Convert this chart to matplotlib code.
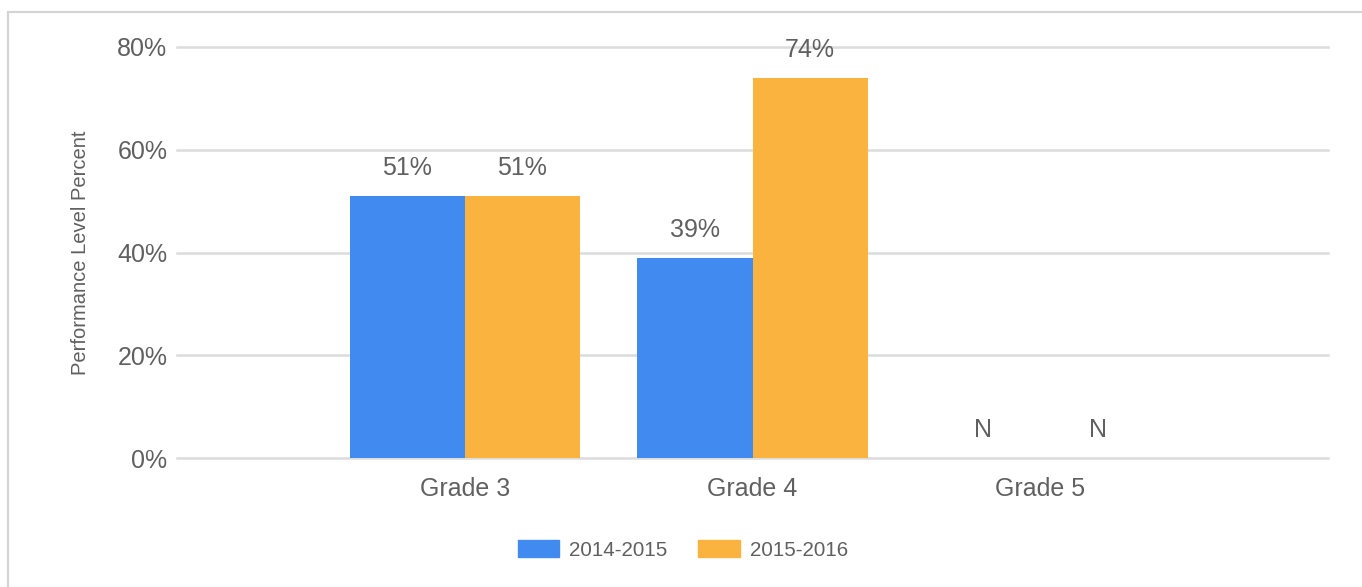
import matplotlib
matplotlib.use('Agg')
import matplotlib.pyplot as plt
from matplotlib.patches import Rectangle, Patch
import numpy as np

plt.rcParams['font.family'] = ['Liberation Sans', 'DejaVu Sans']

categories = ['Grade 3', 'Grade 4', 'Grade 5']
series_names = ['2014-2015', '2015-2016']
values_2014_2015 = [51, 39, None]
values_2015_2016 = [51, 74, None]
y_ticks = [0, 20, 40, 60, 80]
y_label = 'Performance Level Percent'

COLORS = ['#418BF0', '#FBB340']
TEXT_COLOR = '#606060'
GRID_COLOR = '#dcdcdc'
W, H = 1362, 587

fig = plt.figure(figsize=(W / 100, H / 100), dpi=100)
ax = fig.add_axes([177 / W, 1 - 458 / H, (1328 - 177) / W, (458 - 47) / H])

x = np.arange(len(categories))
width = 0.4
for i, (vals, color) in enumerate(zip([values_2014_2015, values_2015_2016], COLORS)):
    heights = np.array([np.nan if v is None else v for v in vals], dtype=float)
    pos = x + (i - 0.5) * width
    ax.bar(pos, np.nan_to_num(heights), width, color=color, zorder=3)
    for xp, h in zip(pos, heights):
        label = 'N' if np.isnan(h) else f'{int(h)}%'
        ax.annotate(label, (xp, 0 if np.isnan(h) else h), xytext=(0, 11.5),
                    textcoords='offset points', ha='center', va='bottom',
                    fontsize=18, color=TEXT_COLOR)

ax.set_xlim(-1, 3)
ax.set_ylim(0, 80)
ax.set_yticks(y_ticks)
ax.set_yticklabels([f'{t}%' for t in y_ticks])
ax.set_xticks(x)
ax.set_xticklabels(categories)
ax.tick_params(axis='both', length=0, labelsize=18, labelcolor=TEXT_COLOR)
ax.tick_params(axis='y', pad=7)
ax.tick_params(axis='x', pad=13.5)
for t in y_ticks:
    ax.axhline(t, color=GRID_COLOR, lw=1.8, zorder=1, clip_on=False)
for s in ax.spines.values():
    s.set_visible(False)

ax.set_ylabel(y_label, fontsize=14.5, color=TEXT_COLOR)
ax.yaxis.set_label_coords((90 - 177) / (1328 - 177), 0.5)

handles = [Patch(facecolor=c, edgecolor=c) for c in COLORS]
fig.legend(handles, series_names, loc='center', bbox_to_anchor=(683 / W, 1 - 550 / H),
           ncol=2, frameon=False, fontsize=14.8, labelcolor=TEXT_COLOR,
           handlelength=2.0, handleheight=0.88, handletextpad=0.5, columnspacing=1.5)

# outer frame, only left and top edges visible in the picture
fig.patches.append(Rectangle((8 / W, -0.1), 2, 1.1 - 12 / H, transform=fig.transFigure,
                             fill=False, edgecolor='#d4d4d4', lw=1.6))

fig.savefig('out.png', dpi=100, facecolor='white')
